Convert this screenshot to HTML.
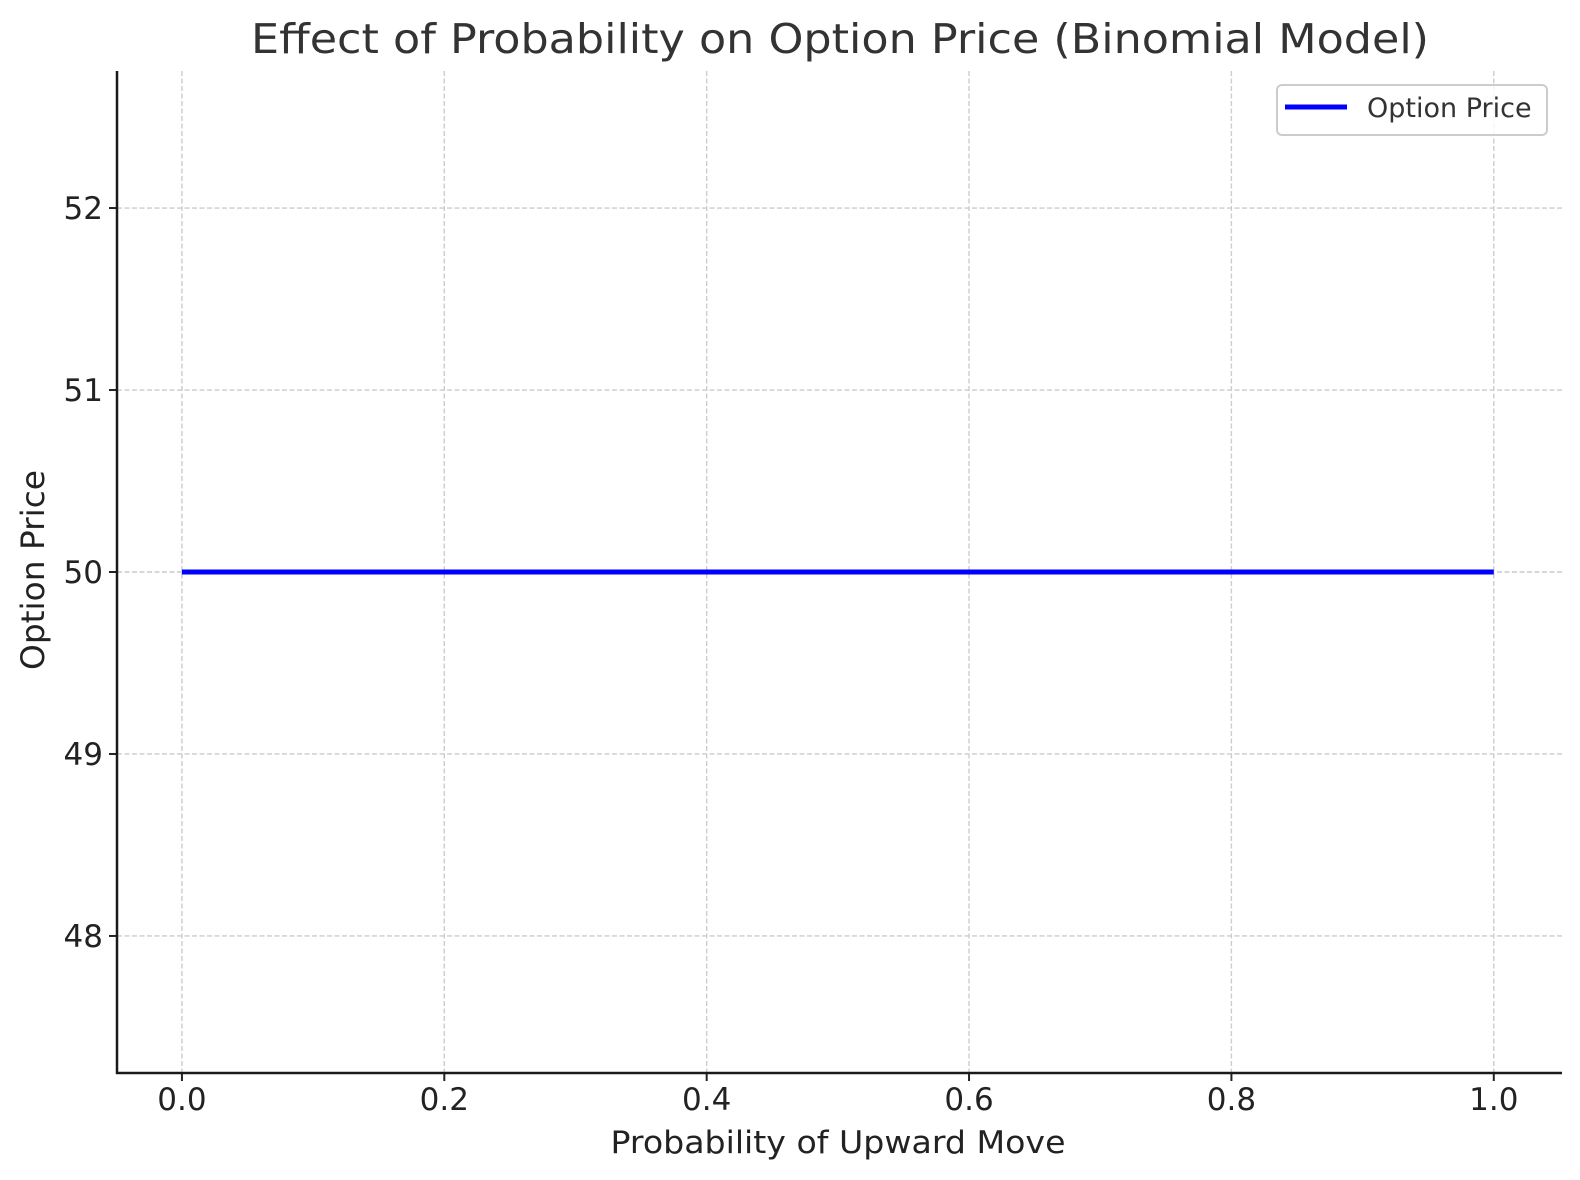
<!DOCTYPE html>
<html><head><meta charset="utf-8"><style>
html,body{margin:0;padding:0;background:#fff;}
svg{display:block;font-family:"DejaVu Sans","Liberation Sans",sans-serif;}
</style></head><body>
<svg id="chart" width="1580" height="1180" viewBox="0 0 1580 1180">
<text x="840" y="53" text-anchor="middle" font-size="41" fill="#333" textLength="1178" lengthAdjust="spacingAndGlyphs">Effect of Probability on Option Price (Binomial Model)</text>
<g id="grid"></g>
<g id="series"></g>
<g id="axes"></g>
<text x="838" y="1153" text-anchor="middle" font-size="31" fill="#222" textLength="455" lengthAdjust="spacingAndGlyphs">Probability of Upward Move</text>
<text transform="translate(44,570) rotate(-90)" text-anchor="middle" font-size="32" fill="#222" textLength="200" lengthAdjust="spacingAndGlyphs">Option Price</text>
<g>
<rect x="1277" y="85" width="270" height="50" rx="5" fill="#fff" fill-opacity="0.8" stroke="#ccc" stroke-width="2"/>
<line x1="1285" y1="107" x2="1347" y2="107" stroke="#0000ff" stroke-width="5"/>
<text x="1367" y="117" font-size="27" fill="#333">Option Price</text>
</g>
</svg>
<script>
const xValues = [0, 0.1, 0.2, 0.3, 0.4, 0.5, 0.6, 0.7, 0.8, 0.9, 1.0];
const priceValues = [50, 50, 50, 50, 50, 50, 50, 50, 50, 50, 50];
const xTicks = [0.0, 0.2, 0.4, 0.6, 0.8, 1.0];
const xTickLabels = ["0.0", "0.2", "0.4", "0.6", "0.8", "1.0"];
const yTicks = [48, 49, 50, 51, 52];
const yTickLabels = ["48", "49", "50", "51", "52"];

const L = 117, R = 1562, T = 71, B = 1073;
const xMin = -0.0495, xMax = 1.052, yMin = 47.247, yMax = 52.753;
const sx = v => L + (v - xMin) / (xMax - xMin) * (R - L);
const sy = v => B - (v - yMin) / (yMax - yMin) * (B - T);
const NS = "http://www.w3.org/2000/svg";
const mk = (tag, attrs, parent) => { const e = document.createElementNS(NS, tag); for (const k in attrs) e.setAttribute(k, attrs[k]); parent.appendChild(e); return e; };
const grid = document.getElementById('grid'), axes = document.getElementById('axes'), series = document.getElementById('series');

xTicks.forEach((v, i) => {
  const x = sx(v);
  const g = mk('line', {x1: x, y1: T, x2: x, y2: B, stroke: '#cccccc', 'stroke-width': 1.4, 'stroke-dasharray': '5,2.5'}, grid);
  
  
  const t = mk('line', {x1: x, y1: B, x2: x, y2: B + 8, stroke: '#222', 'stroke-width': 2}, axes);
  
  
  const l = mk('text', {x: x, y: 1110, 'text-anchor': 'middle', 'font-size': 31, fill: '#222'}, axes);
  l.textContent = xTickLabels[i];
  
  
});
yTicks.forEach((v, i) => {
  const y = sy(v);
  const g = mk('line', {x1: L, y1: y, x2: R, y2: y, stroke: '#cccccc', 'stroke-width': 1.4, 'stroke-dasharray': '5,2.5'}, grid);
  
  
  const t = mk('line', {x1: L - 8, y1: y, x2: L, y2: y, stroke: '#222', 'stroke-width': 2}, axes);
  
  
  const l = mk('text', {x: L - 14, y: y + 11, 'text-anchor': 'end', 'font-size': 31, fill: '#222'}, axes);
  l.textContent = yTickLabels[i];
  
  
});
const s1 = mk('line', {x1: L, y1: T, x2: L, y2: B + 1, stroke: '#1a1a1a', 'stroke-width': 2.5}, axes);


const s2 = mk('line', {x1: L - 1, y1: B, x2: R, y2: B, stroke: '#1a1a1a', 'stroke-width': 2.5}, axes);



const pts = xValues.map((x, i) => sx(x) + ',' + sy(priceValues[i])).join(' ');
const pl = mk('polyline', {points: pts, fill: 'none', stroke: '#0000ff', 'stroke-width': 5}, series);


</script>
</body></html>
